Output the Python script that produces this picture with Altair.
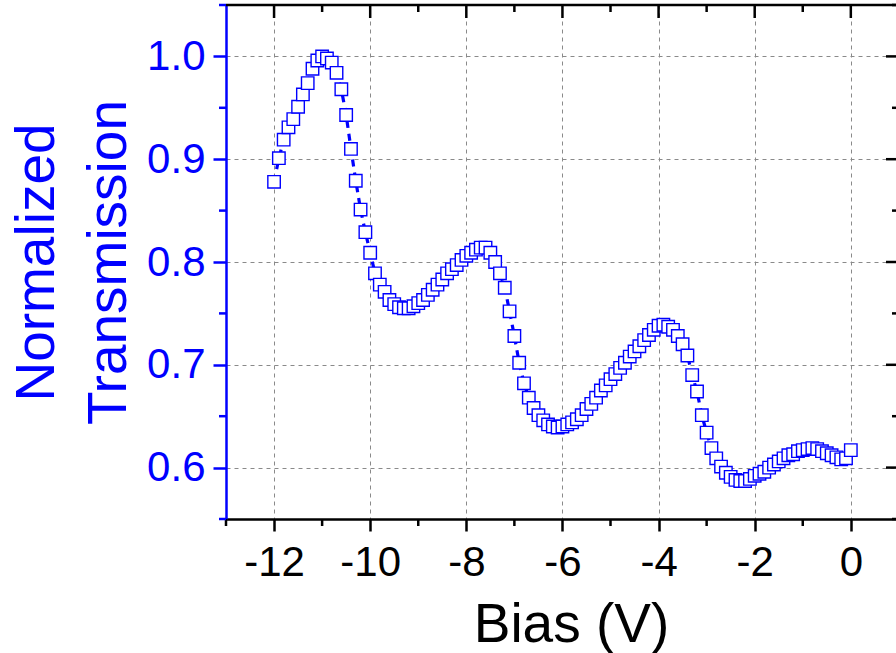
import altair as alt
import pandas as pd

BLUE = "#0000ff"
FONT = "Liberation Sans"

# Bias sweep (V), 0.1 V steps from -12 to 0
bias = [round(-12 + 0.1 * i, 1) for i in range(121)]
transmission = [
    0.878, 0.901, 0.919, 0.931, 0.939, 0.951, 0.963, 0.974, 0.988, 0.996,
    1.000, 0.998, 0.994, 0.984, 0.968, 0.943, 0.910, 0.879, 0.851, 0.829,
    0.809, 0.789, 0.778, 0.771, 0.763, 0.759, 0.756, 0.755, 0.755, 0.757,
    0.760, 0.763, 0.768, 0.773, 0.778, 0.783, 0.789, 0.793, 0.797, 0.802,
    0.806, 0.809, 0.812, 0.814, 0.814, 0.809, 0.800, 0.789, 0.775, 0.752,
    0.728, 0.702, 0.682, 0.668, 0.658, 0.651, 0.646, 0.642, 0.640, 0.639,
    0.640, 0.642, 0.644, 0.647, 0.651, 0.657, 0.662, 0.668, 0.675, 0.680,
    0.686, 0.691, 0.697, 0.702, 0.708, 0.713, 0.718, 0.724, 0.729, 0.734,
    0.738, 0.739, 0.737, 0.734, 0.728, 0.720, 0.709, 0.690, 0.674, 0.651,
    0.634, 0.619, 0.609, 0.601, 0.595, 0.591, 0.588, 0.587, 0.587, 0.589,
    0.592, 0.594, 0.596, 0.600, 0.603, 0.606, 0.609, 0.612, 0.613, 0.616,
    0.617, 0.618, 0.619, 0.618, 0.616, 0.614, 0.612, 0.610, 0.608, 0.609,
    0.617,
]

x_major = [-12, -10, -8, -6, -4, -2, 0]
x_minor = [-13, -11, -9, -7, -5, -3, -1]
x_minor_top = [-11, -9, -7, -5, -3, -1]
y_major = [0.6, 0.7, 0.8, 0.9, 1.0]
y_minor = [0.55, 0.65, 0.75, 0.85, 0.95, 1.05]

W, H = 670, 514
xs = alt.Scale(domain=[-13, 0.94], nice=False, zero=False)
ys = alt.Scale(domain=[0.55, 1.05], nice=False, zero=False)

x_axis = alt.Axis(
    values=x_major, labelExpr="datum.value + ''",
    tickSize=12, tickWidth=2.5, tickColor="black",
    domainColor="black", domainWidth=2.5,
    labelFont=FONT, labelFontSize=42, labelColor="black", labelPadding=11,
    title="Bias (V)", titleFont=FONT, titleFontSize=55, titleFontWeight="normal",
    titleColor="black", titleX=345, titleY=122, titleAlign="center",
    titleBaseline="alphabetic",
    grid=True, gridDash=[4, 4], gridColor="#8a8a8a", gridWidth=1,
)
y_axis = alt.Axis(
    values=y_major, format=".1f",
    tickSize=13, tickWidth=2.5, tickColor=BLUE,
    domainColor=BLUE, domainWidth=2.5,
    labelFont=FONT, labelFontSize=42, labelColor=BLUE, labelPadding=8,
    title=["Normalized", "Transmission"], titleFont=FONT, titleFontSize=55,
    titleFontWeight="normal", titleColor=BLUE, titleAngle=-90,
    titleX=-173, titleY=H / 2, titleAlign="center", titleBaseline="alphabetic",
    titleLineHeight=72,
    grid=True, gridDash=[4, 4], gridColor="#8a8a8a", gridWidth=1,
)

X = alt.X("bias:Q", scale=xs, axis=x_axis)
Y = alt.Y("t:Q", scale=ys, axis=y_axis)

df = pd.DataFrame({"bias": bias, "t": transmission})
base = alt.Chart(df)

line = base.mark_line(color=BLUE, strokeWidth=3.2, strokeDash=[7, 6]).encode(x=X, y=Y)
points = base.mark_square(
    size=155, filled=True, fill="white", stroke=BLUE, strokeWidth=1.4, opacity=1
).encode(x=X, y=Y)

one = pd.DataFrame({"v": [0]})
top_line = alt.Chart(one).mark_rule(color="black", strokeWidth=2.5).encode(
    x=alt.value(0), x2=alt.value(W), y=alt.value(0)
)


def vticks(vals, y0, y1, color="black"):
    return alt.Chart(pd.DataFrame({"bias": vals})).mark_rule(
        color=color, strokeWidth=2.5
    ).encode(x=X, y=alt.value(y0), y2=alt.value(y1))


def hticks(vals, x0, x1, color="black"):
    return alt.Chart(pd.DataFrame({"t": vals})).mark_rule(
        color=color, strokeWidth=2.5
    ).encode(y=Y, x=alt.value(x0), x2=alt.value(x1))


layers = [
    line,
    points,
    top_line,
    vticks(x_major, 0, 13),
    vticks(x_minor_top, 0, 7),
    vticks(x_minor, H, H + 7),
    hticks(y_minor, -7, 0, BLUE),
    hticks(y_major, W - 10, W),
    hticks(y_minor, W - 4, W),
]

chart = alt.layer(*layers).properties(
    width=W, height=H,
    autosize=alt.AutoSizeParams(type="none"),
    padding={"left": 226, "top": 5, "right": 0, "bottom": 134},
    background="white",
).configure_view(stroke=None)

chart.save("out.html", embed_options={"renderer": "svg", "actions": False})
